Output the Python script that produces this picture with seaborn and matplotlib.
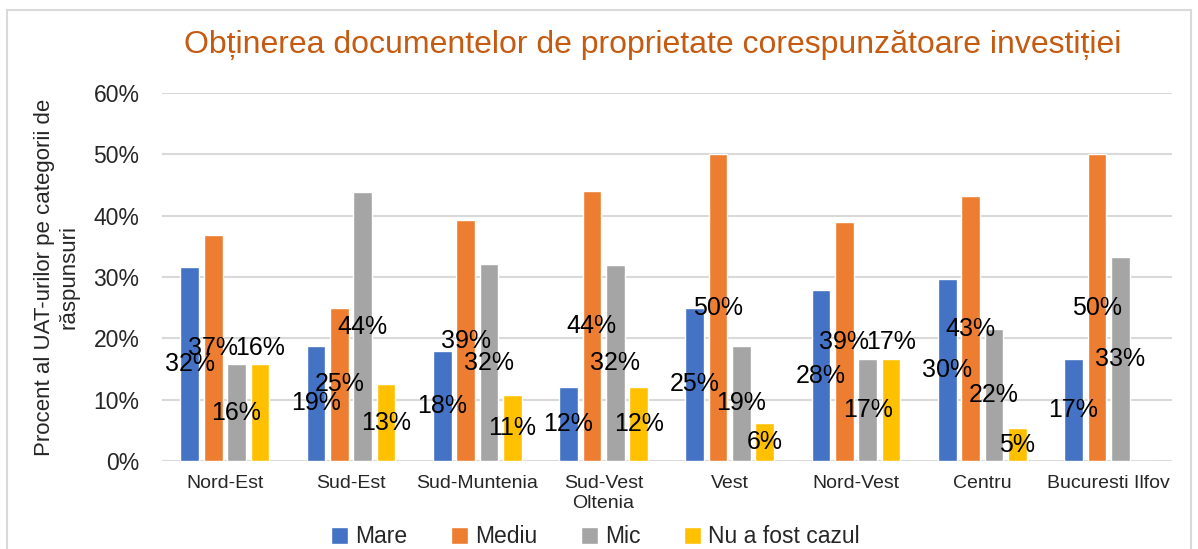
import math
import pandas as pd
import seaborn as sns
import matplotlib.pyplot as plt
from matplotlib.patches import Rectangle

# regions and answer categories
regions = ['Nord-Est', 'Sud-Est', 'Sud-Muntenia', 'Sud-Vest\nOltenia', 'Vest',
           'Nord-Vest', 'Centru', 'Bucuresti Ilfov']
categories = ['Mare', 'Mediu', 'Mic', 'Nu a fost cazul']

# percent of UATs per region
mare = [31.6, 18.8, 17.9, 12.0, 25.0, 27.8, 29.7, 16.7]
mediu = [36.8, 25.0, 39.3, 44.0, 50.0, 38.9, 43.2, 50.0]
mic = [15.8, 43.8, 32.1, 32.0, 18.8, 16.7, 21.6, 33.3]
nu_cazul = [15.8, 12.5, 10.7, 12.0, 6.2, 16.7, 5.4, 0.0]

colors = ['#4472C4', '#ED7D31', '#A5A5A5', '#FFC000']

rows = []
for cat, vals in zip(categories, [mare, mediu, mic, nu_cazul]):
    for reg, v in zip(regions, vals):
        rows.append({'Regiune': reg, 'Categorie': cat, 'Procent': v})
df = pd.DataFrame(rows)

sns.set_style('white')
plt.rcParams['font.family'] = ['Liberation Sans', 'DejaVu Sans']

fig = plt.figure(figsize=(11.98, 5.49), dpi=100)
ax = fig.add_axes([0.135, 0.160, 0.843, 0.671])

sns.barplot(data=df, x='Regiune', y='Procent', hue='Categorie', order=regions,
            hue_order=categories, palette=colors, width=0.74, gap=0.2,
            saturation=1, ax=ax, zorder=3)

# labels centred in the bars; when a label would sit on top of the previous
# bar's label (same height), push it above the bar like Excel did
prev = None
for cont in ax.containers:
    heights = [b.get_height() for b in cont]
    center, edge = [], []
    for i, h in enumerate(heights):
        txt = '' if h == 0 else f'{math.floor(h + 0.5)}%'
        if prev is not None and abs(prev[i] - h) < 1.0:
            center.append('')
            edge.append(txt)
        else:
            center.append(txt)
            edge.append('')
    ax.bar_label(cont, labels=center, label_type='center', fontsize=18, color='black')
    ax.bar_label(cont, labels=edge, label_type='edge', padding=3, fontsize=18, color='black')
    prev = heights

ax.set_ylim(0, 60)
ax.set_yticks(range(0, 61, 10))
ax.set_yticklabels([f'{t}%' for t in range(0, 61, 10)], fontsize=16.5)
ax.tick_params(axis='x', labelsize=14, pad=10, length=0)
ax.tick_params(axis='y', length=0, pad=16)
ax.grid(axis='y', color='#D9D9D9', linewidth=1.5, zorder=0)
ax.set_axisbelow(True)
for s in ax.spines.values():
    s.set_visible(False)
ax.set_xlabel('')
ax.set_ylabel('Procent al UAT-urilor pe categorii de\nrăspunsuri', fontsize=16, labelpad=10)

ax.legend(loc='center', bbox_to_anchor=(0.497, 0.022), bbox_transform=fig.transFigure,
          ncol=4, frameon=False, fontsize=16.5, handlelength=0.75, handleheight=0.75,
          handletextpad=0.3, columnspacing=1.9)

fig.text(0.545, 0.918, 'Obținerea documentelor de proprietate corespunzătoare investiției',
         ha='center', va='center', fontsize=23, color='#C55A11')

fig.patches.append(Rectangle((0.006, -0.01), 0.988, 0.992, transform=fig.transFigure,
                             fill=False, edgecolor='#D9D9D9', linewidth=1.5))

fig.savefig('out.png', dpi=100)
